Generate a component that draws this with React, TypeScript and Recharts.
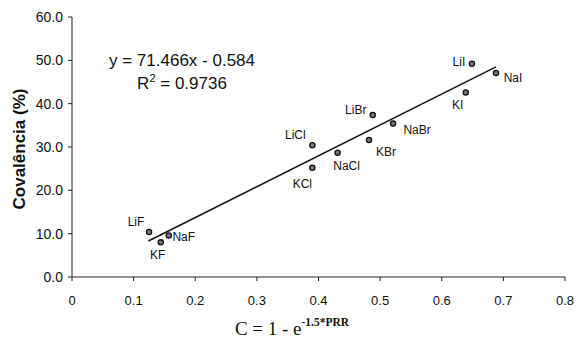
import {
  ScatterChart,
  Scatter,
  XAxis,
  YAxis,
  ReferenceLine,
  Customized,
} from "recharts";

const salts = ["LiF", "KF", "NaF", "LiCl", "KCl", "NaCl", "KBr", "LiBr", "NaBr", "KI", "LiI", "NaI"];
const cValues = [0.125, 0.144, 0.157, 0.39, 0.39, 0.431, 0.482, 0.488, 0.521, 0.639, 0.649, 0.688];
const covalence = [10.4, 8.0, 9.6, 30.4, 25.2, 28.7, 31.6, 37.4, 35.4, 42.6, 49.2, 47.1];

// linear fit endpoints, y = 71.466x - 0.584
const trendStart = { x: 0.124, y: 8.3 };
const trendEnd = { x: 0.688, y: 48.5 };

const xTicks = [0, 0.1, 0.2, 0.3, 0.4, 0.5, 0.6, 0.7, 0.8];
const yTicks = [0, 10, 20, 30, 40, 50, 60];

const points = salts.map((name, i) => ({ name, x: cValues[i], y: covalence[i] }));

// where each salt's name sits relative to its marker
const labelOffset: Record<string, [number, number]> = {
  LiF: [-13, -10],
  KF: [-3, 13],
  NaF: [15, 2],
  LiCl: [-17, -10],
  KCl: [-10, 16],
  NaCl: [9, 13],
  KBr: [17, 12],
  LiBr: [-17, -5],
  NaBr: [24, 6],
  KI: [-8, 13],
  LiI: [-13, -2],
  NaI: [17, 5],
};

const SANS = "'Liberation Sans', Arial, sans-serif";

function SaltPoint(props: any) {
  const { cx, cy, payload } = props;
  const [dx, dy] = labelOffset[payload.name] ?? [10, 0];
  return (
    <g>
      <circle cx={cx} cy={cy} r={2.6} fill="#777" stroke="#111" strokeWidth={1.3} />
      <text
        x={cx + dx}
        y={cy + dy}
        textAnchor="middle"
        dominantBaseline="central"
        fontFamily={SANS}
        fontSize={12}
        fill="#111"
      >
        {payload.name}
      </text>
    </g>
  );
}

function Annotations() {
  return (
    <g fontFamily={SANS} fill="#111">
      <text x={182} y={66} textAnchor="middle" fontSize={17}>
        y = 71.466x - 0.584
      </text>
      <text x={182} y={89} textAnchor="middle" fontSize={17}>
        R<tspan dy={-7} fontSize={11}>2</tspan>
        <tspan dy={7}> = 0.9736</tspan>
      </text>
      <text
        transform="translate(25,149) rotate(-90)"
        textAnchor="middle"
        fontSize={17}
        fontWeight="bold"
      >
        Covalência (%)
      </text>
      <text
        x={292}
        y={335}
        textAnchor="middle"
        fontFamily="'Liberation Serif', 'Times New Roman', serif"
        fontSize={19}
      >
        C = 1 - e
        <tspan dy={-9} fontSize={11.5} fontWeight="bold">
          -1.5*PRR
        </tspan>
      </text>
    </g>
  );
}

export default function App() {
  return (
    <div style={{ position: "absolute", left: 0, top: 0, background: "#fff" }}>
      <ScatterChart
        width={576}
        height={341}
        margin={{ top: 17, right: 11, bottom: 34, left: 0 }}
      >
        <XAxis
          type="number"
          dataKey="x"
          domain={[0, 0.8]}
          ticks={xTicks}
          tickFormatter={(v: number) => (v === 0 ? "0" : String(v))}
          height={30}
          stroke="#222"
          tickSize={4}
          tickMargin={15}
          tick={{ fill: "#111", fontSize: 13, fontFamily: SANS }}
          interval={0}
        />
        <YAxis
          type="number"
          dataKey="y"
          domain={[0, 60]}
          ticks={yTicks}
          tickFormatter={(v: number) => v.toFixed(1)}
          width={72}
          stroke="#222"
          tickSize={4}
          tickMargin={5}
          tick={{ fill: "#111", fontSize: 14, fontFamily: SANS }}
          interval={0}
        />
        <ReferenceLine
          segment={[trendStart, trendEnd]}
          stroke="#111"
          strokeWidth={1.5}
          ifOverflow="visible"
        />
        <Scatter data={points} shape={<SaltPoint />} isAnimationActive={false} />
        <Customized component={Annotations} />
      </ScatterChart>
    </div>
  );
}
